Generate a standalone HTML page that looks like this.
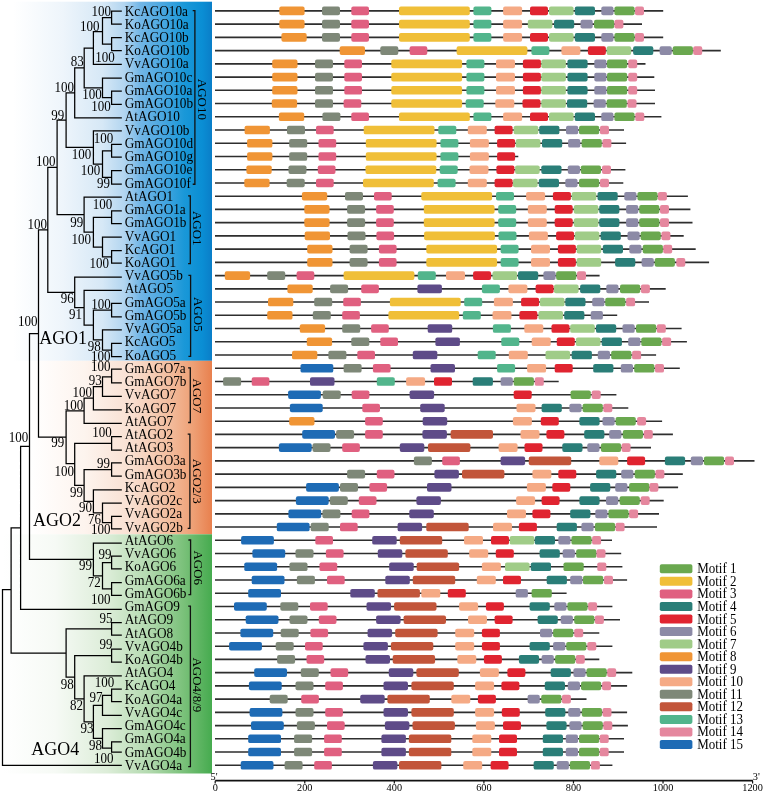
<!DOCTYPE html><html><head><meta charset="utf-8"><style>html,body{margin:0;padding:0;background:#fff;}svg{display:block;}text{font-family:"Liberation Serif","Times New Roman",serif;}</style></head><body>
<svg width="764" height="793" viewBox="0 0 764 793">
<defs>
<linearGradient id="gb" gradientUnits="userSpaceOnUse" x1="13" y1="0" x2="212" y2="0">
<stop offset="0" stop-color="#ffffff"/><stop offset="0.25" stop-color="#eef5fb"/><stop offset="0.45" stop-color="#d6e8f6"/>
<stop offset="0.56" stop-color="#b2d5f0"/><stop offset="0.64" stop-color="#72b6e6"/><stop offset="0.76" stop-color="#46a6e0"/>
<stop offset="0.86" stop-color="#1a98d8"/><stop offset="0.95" stop-color="#0a8ed4"/><stop offset="1" stop-color="#0a7ec8"/></linearGradient>
<linearGradient id="go" gradientUnits="userSpaceOnUse" x1="30" y1="0" x2="212" y2="0">
<stop offset="0" stop-color="#ffffff"/><stop offset="0.3" stop-color="#fdf4ee"/><stop offset="0.55" stop-color="#f9e0d2"/>
<stop offset="0.75" stop-color="#f3c0a2"/><stop offset="0.9" stop-color="#ee9f74"/><stop offset="1" stop-color="#e8804e"/></linearGradient>
<linearGradient id="gg" gradientUnits="userSpaceOnUse" x1="3" y1="0" x2="212" y2="0">
<stop offset="0" stop-color="#ffffff"/><stop offset="0.25" stop-color="#f6faf5"/><stop offset="0.5" stop-color="#dcedd8"/>
<stop offset="0.7" stop-color="#b2d9ae"/><stop offset="0.87" stop-color="#78c078"/><stop offset="1" stop-color="#46ab4f"/></linearGradient>
</defs>
<rect x="13" y="1.7" width="199" height="359.10" fill="url(#gb)"/>
<rect x="30" y="360.8" width="182" height="173.50" fill="url(#go)"/>
<rect x="3" y="534.3" width="209" height="239.20" fill="url(#gg)"/>
<path d="M111.6 11H121.2M111.6 24.2H121.2M111.6 37.5H121.2M111.6 50.7H121.2M93.4 64.4H121.2M102.5 78H121.2M111.6 91H121.2M111.6 104.3H121.2M74.7 117.9H121.2M93.4 130.8H121.2M111.6 144.4H121.2M111.6 157.1H121.2M111.6 170.7H121.2M111.6 184H121.2M84.1 197H121.2M111.6 210.9H121.2M111.6 223.7H121.2M102.5 237.1H121.2M111.6 250.7H121.2M111.6 263.1H121.2M74.7 277.2H121.2M84.1 290.4H121.2M111.6 303.4H121.2M111.6 316.8H121.2M102.5 329.8H121.2M111.6 343.4H121.2M111.6 356.6H121.2M111.6 369.2H121.2M111.6 382.8H121.2M102.5 396.4H121.2M93.4 409.8H121.2M84.1 423.4H121.2M111.6 436.5H121.2M111.6 450.2H121.2M111.6 462.8H121.2M111.6 476.2H121.2M93.4 489.8H121.2M102.5 503.2H121.2M111.6 516.4H121.2M111.6 528.9H121.2M93.4 543H121.2M111.6 556.2H121.2M111.6 568.9H121.2M111.6 582.6H121.2M111.6 595.3H121.2M20.6 609.3H121.2M111.6 622.6H121.2M111.6 635.2H121.2M111.6 649H121.2M111.6 662H121.2M84.1 675.8H121.2M111.6 689H121.2M111.6 701.6H121.2M102.5 715.4H121.2M102.5 728.5H121.2M111.6 741.9H121.2M111.6 752.1H121.2M2.5 765.3H121.2M111.6 11.00V24.20M111.6 37.50V50.70M102.5 17.60V44.10M102.5 17.60H111.6M102.5 44.10H111.6M93.4 31.60V64.40M93.4 31.60H102.5M111.6 91.00V104.30M102.5 78.00V97.65M102.5 97.65H111.6M84.2 48.00V87.83M84.2 48.00H93.4M84.2 87.83H102.5M74.7 67.91V117.90M74.7 67.91H84.2M111.6 144.40V157.10M111.6 170.70V184.00M102.5 150.75V177.35M102.5 150.75H111.6M102.5 177.35H111.6M93.4 130.80V164.05M93.4 164.05H102.5M66.1 92.91V147.43M66.1 92.91H74.7M66.1 147.43H93.4M111.6 210.90V223.70M111.6 250.70V263.10M102.5 237.10V256.90M102.5 256.90H111.6M93.4 217.30V247.00M93.4 217.30H111.6M93.4 247.00H102.5M84.1 197.00V232.15M84.1 232.15H93.4M57.1 120.17V214.57M57.1 120.17H66.1M57.1 214.57H84.1M111.6 303.40V316.80M111.6 343.40V356.60M102.5 329.80V350.00M102.5 350.00H111.6M93.4 310.10V339.90M93.4 310.10H111.6M93.4 339.90H102.5M84.1 290.40V325.00M84.1 325.00H93.4M74.7 277.20V307.70M74.7 307.70H84.1M47.8 167.37V292.45M47.8 167.37H57.1M47.8 292.45H74.7M111.6 369.20V382.80M102.5 376.80V396.40M102.5 376.80H111.6M93.4 386.60V409.80M93.4 386.60H102.5M84.1 398.20V423.40M84.1 398.20H93.4M111.6 436.50V450.20M111.6 462.80V476.20M111.6 516.40V528.90M102.5 503.20V522.65M102.5 522.65H111.6M93.4 489.80V512.92M93.4 512.92H102.5M84.1 469.50V501.36M84.1 469.50H111.6M84.1 501.36H93.4M74.7 443.35V485.43M74.7 443.35H111.6M74.7 485.43H84.1M66.1 410.80V463.60M66.1 410.80H84.1M66.1 463.60H74.7M38.5 229.91V437.20M38.5 229.91H47.8M38.5 437.20H66.1M111.6 556.20V568.90M111.6 582.60V595.30M102.5 562.55V588.95M102.5 562.55H111.6M102.5 588.95H111.6M93.4 543.00V575.75M93.4 575.75H102.5M29.5 333.56V559.38M29.5 333.56H38.5M29.5 559.38H93.4M20.6 446.47V609.30M20.6 446.47H29.5M111.6 622.60V635.20M111.6 649.00V662.00M111.6 689.00V701.60M102.5 695.30V715.40M102.5 695.30H111.6M111.6 741.90V752.10M102.5 728.50V748.20M102.5 748.20H111.6M93.4 705.35V738.35M93.4 705.35H102.5M93.4 738.35H102.5M84.1 675.80V721.85M84.1 721.85H93.4M74.7 655.50V698.82M74.7 655.50H111.6M74.7 698.82H84.1M66.1 628.90V677.16M66.1 628.90H111.6M66.1 677.16H74.7M11.1 527.88V653.03M11.1 527.88H20.6M11.1 653.03H66.1M2.5 589.70V765.30M2.5 589.70H11.1" fill="none" stroke="#000" stroke-width="1.25" stroke-linecap="square"/>
<text transform="translate(124.7,15.50) scale(1.02,1.1)" font-size="13" fill="#000">KcAGO10a</text>
<text transform="translate(124.7,28.73) scale(1.02,1.1)" font-size="13" fill="#000">KoAGO10a</text>
<text transform="translate(124.7,41.97) scale(1.02,1.1)" font-size="13" fill="#000">KcAGO10b</text>
<text transform="translate(124.7,55.20) scale(1.02,1.1)" font-size="13" fill="#000">KoAGO10b</text>
<text transform="translate(124.7,68.44) scale(1.02,1.1)" font-size="13" fill="#000">VvAGO10a</text>
<text transform="translate(124.7,81.67) scale(1.02,1.1)" font-size="13" fill="#000">GmAGO10c</text>
<text transform="translate(124.7,94.91) scale(1.02,1.1)" font-size="13" fill="#000">GmAGO10a</text>
<text transform="translate(124.7,108.14) scale(1.02,1.1)" font-size="13" fill="#000">GmAGO10b</text>
<text transform="translate(124.7,121.38) scale(1.02,1.1)" font-size="13" fill="#000">AtAGO10</text>
<text transform="translate(124.7,134.61) scale(1.02,1.1)" font-size="13" fill="#000">VvAGO10b</text>
<text transform="translate(124.7,147.85) scale(1.02,1.1)" font-size="13" fill="#000">GmAGO10d</text>
<text transform="translate(124.7,161.08) scale(1.02,1.1)" font-size="13" fill="#000">GmAGO10g</text>
<text transform="translate(124.7,174.32) scale(1.02,1.1)" font-size="13" fill="#000">GmAGO10e</text>
<text transform="translate(124.7,187.56) scale(1.02,1.1)" font-size="13" fill="#000">GmAGO10f</text>
<text transform="translate(124.7,200.79) scale(1.02,1.1)" font-size="13" fill="#000">AtAGO1</text>
<text transform="translate(124.7,214.02) scale(1.02,1.1)" font-size="13" fill="#000">GmAGO1a</text>
<text transform="translate(124.7,227.26) scale(1.02,1.1)" font-size="13" fill="#000">GmAGO1b</text>
<text transform="translate(124.7,240.50) scale(1.02,1.1)" font-size="13" fill="#000">VvAGO1</text>
<text transform="translate(124.7,253.73) scale(1.02,1.1)" font-size="13" fill="#000">KcAGO1</text>
<text transform="translate(124.7,266.96) scale(1.02,1.1)" font-size="13" fill="#000">KoAGO1</text>
<text transform="translate(124.7,280.20) scale(1.02,1.1)" font-size="13" fill="#000">VvAGO5b</text>
<text transform="translate(124.7,293.44) scale(1.02,1.1)" font-size="13" fill="#000">AtAGO5</text>
<text transform="translate(124.7,306.67) scale(1.02,1.1)" font-size="13" fill="#000">GmAGO5a</text>
<text transform="translate(124.7,319.90) scale(1.02,1.1)" font-size="13" fill="#000">GmAGO5b</text>
<text transform="translate(124.7,333.14) scale(1.02,1.1)" font-size="13" fill="#000">VvAGO5a</text>
<text transform="translate(124.7,346.38) scale(1.02,1.1)" font-size="13" fill="#000">KcAGO5</text>
<text transform="translate(124.7,359.61) scale(1.02,1.1)" font-size="13" fill="#000">KoAGO5</text>
<text transform="translate(124.7,372.84) scale(1.02,1.1)" font-size="13" fill="#000">GmAGO7a</text>
<text transform="translate(124.7,386.08) scale(1.02,1.1)" font-size="13" fill="#000">GmAGO7b</text>
<text transform="translate(124.7,399.31) scale(1.02,1.1)" font-size="13" fill="#000">VvAGO7</text>
<text transform="translate(124.7,412.55) scale(1.02,1.1)" font-size="13" fill="#000">KoAGO7</text>
<text transform="translate(124.7,425.78) scale(1.02,1.1)" font-size="13" fill="#000">AtAGO7</text>
<text transform="translate(124.7,439.02) scale(1.02,1.1)" font-size="13" fill="#000">AtAGO2</text>
<text transform="translate(124.7,452.25) scale(1.02,1.1)" font-size="13" fill="#000">AtAGO3</text>
<text transform="translate(124.7,465.49) scale(1.02,1.1)" font-size="13" fill="#000">GmAGO3a</text>
<text transform="translate(124.7,478.72) scale(1.02,1.1)" font-size="13" fill="#000">GmAGO3b</text>
<text transform="translate(124.7,491.96) scale(1.02,1.1)" font-size="13" fill="#000">KcAGO2</text>
<text transform="translate(124.7,505.19) scale(1.02,1.1)" font-size="13" fill="#000">VvAGO2c</text>
<text transform="translate(124.7,518.43) scale(1.02,1.1)" font-size="13" fill="#000">VvAGO2a</text>
<text transform="translate(124.7,531.66) scale(1.02,1.1)" font-size="13" fill="#000">VvAGO2b</text>
<text transform="translate(124.7,544.90) scale(1.02,1.1)" font-size="13" fill="#000">AtAGO6</text>
<text transform="translate(124.7,558.13) scale(1.02,1.1)" font-size="13" fill="#000">VvAGO6</text>
<text transform="translate(124.7,571.37) scale(1.02,1.1)" font-size="13" fill="#000">KoAGO6</text>
<text transform="translate(124.7,584.61) scale(1.02,1.1)" font-size="13" fill="#000">GmAGO6a</text>
<text transform="translate(124.7,597.84) scale(1.02,1.1)" font-size="13" fill="#000">GmAGO6b</text>
<text transform="translate(124.7,611.07) scale(1.02,1.1)" font-size="13" fill="#000">GmAGO9</text>
<text transform="translate(124.7,624.31) scale(1.02,1.1)" font-size="13" fill="#000">AtAGO9</text>
<text transform="translate(124.7,637.54) scale(1.02,1.1)" font-size="13" fill="#000">AtAGO8</text>
<text transform="translate(124.7,650.78) scale(1.02,1.1)" font-size="13" fill="#000">VvAGO4b</text>
<text transform="translate(124.7,664.01) scale(1.02,1.1)" font-size="13" fill="#000">KoAGO4b</text>
<text transform="translate(124.7,677.25) scale(1.02,1.1)" font-size="13" fill="#000">AtAGO4</text>
<text transform="translate(124.7,690.49) scale(1.02,1.1)" font-size="13" fill="#000">KcAGO4</text>
<text transform="translate(124.7,703.72) scale(1.02,1.1)" font-size="13" fill="#000">KoAGO4a</text>
<text transform="translate(124.7,716.95) scale(1.02,1.1)" font-size="13" fill="#000">VvAGO4c</text>
<text transform="translate(124.7,730.19) scale(1.02,1.1)" font-size="13" fill="#000">GmAGO4c</text>
<text transform="translate(124.7,743.42) scale(1.02,1.1)" font-size="13" fill="#000">GmAGO4a</text>
<text transform="translate(124.7,756.66) scale(1.02,1.1)" font-size="13" fill="#000">GmAGO4b</text>
<text transform="translate(124.7,769.89) scale(1.02,1.1)" font-size="13" fill="#000">VvAGO4a</text>
<text transform="translate(111.1,16.4) scale(1.0,1.04)" font-size="13" text-anchor="end" fill="#000">100</text>
<text transform="translate(99.6,31.0) scale(1.0,1.04)" font-size="13" text-anchor="end" fill="#000">100</text>
<text transform="translate(114.7,62.0) scale(1.0,1.04)" font-size="13" text-anchor="end" fill="#000">100</text>
<text transform="translate(83.8,66.3) scale(1.0,1.04)" font-size="13" text-anchor="end" fill="#000">83</text>
<text transform="translate(101.8,99.4) scale(1.0,1.04)" font-size="13" text-anchor="end" fill="#000">100</text>
<text transform="translate(110.7,110.5) scale(1.0,1.04)" font-size="13" text-anchor="end" fill="#000">100</text>
<text transform="translate(74.0,91.8) scale(1.0,1.04)" font-size="13" text-anchor="end" fill="#000">100</text>
<text transform="translate(64.3,119.8) scale(1.0,1.04)" font-size="13" text-anchor="end" fill="#000">99</text>
<text transform="translate(113.3,143.0) scale(1.0,1.04)" font-size="13" text-anchor="end" fill="#000">100</text>
<text transform="translate(91.2,158.8) scale(1.0,1.04)" font-size="13" text-anchor="end" fill="#000">100</text>
<text transform="translate(100.3,174.7) scale(1.0,1.04)" font-size="13" text-anchor="end" fill="#000">100</text>
<text transform="translate(110.0,188.4) scale(1.0,1.04)" font-size="13" text-anchor="end" fill="#000">99</text>
<text transform="translate(55.4,165.8) scale(1.0,1.04)" font-size="13" text-anchor="end" fill="#000">100</text>
<text transform="translate(112.3,209.3) scale(1.0,1.04)" font-size="13" text-anchor="end" fill="#000">100</text>
<text transform="translate(83.3,226.5) scale(1.0,1.04)" font-size="13" text-anchor="end" fill="#000">99</text>
<text transform="translate(91.0,243.7) scale(1.0,1.04)" font-size="13" text-anchor="end" fill="#000">100</text>
<text transform="translate(109.0,268.0) scale(1.0,1.04)" font-size="13" text-anchor="end" fill="#000">100</text>
<text transform="translate(47.0,228.5) scale(1.0,1.04)" font-size="13" text-anchor="end" fill="#000">100</text>
<text transform="translate(73.7,303.2) scale(1.0,1.04)" font-size="13" text-anchor="end" fill="#000">96</text>
<text transform="translate(82.0,319.0) scale(1.0,1.04)" font-size="13" text-anchor="end" fill="#000">91</text>
<text transform="translate(110.8,309.0) scale(1.0,1.04)" font-size="13" text-anchor="end" fill="#000">100</text>
<text transform="translate(100.7,351.4) scale(1.0,1.04)" font-size="13" text-anchor="end" fill="#000">98</text>
<text transform="translate(110.4,360.8) scale(1.0,1.04)" font-size="13" text-anchor="end" fill="#000">100</text>
<text transform="translate(37.4,326.2) scale(1.0,1.04)" font-size="13" text-anchor="end" fill="#000">100</text>
<text transform="translate(110.4,371.0) scale(1.0,1.04)" font-size="13" text-anchor="end" fill="#000">100</text>
<text transform="translate(101.8,385.4) scale(1.0,1.04)" font-size="13" text-anchor="end" fill="#000">93</text>
<text transform="translate(92.0,396.9) scale(1.0,1.04)" font-size="13" text-anchor="end" fill="#000">100</text>
<text transform="translate(83.3,409.8) scale(1.0,1.04)" font-size="13" text-anchor="end" fill="#000">100</text>
<text transform="translate(64.3,447.3) scale(1.0,1.04)" font-size="13" text-anchor="end" fill="#000">99</text>
<text transform="translate(111.8,436.8) scale(1.0,1.04)" font-size="13" text-anchor="end" fill="#000">100</text>
<text transform="translate(74.0,475.5) scale(1.0,1.04)" font-size="13" text-anchor="end" fill="#000">100</text>
<text transform="translate(83.0,496.8) scale(1.0,1.04)" font-size="13" text-anchor="end" fill="#000">99</text>
<text transform="translate(110.0,467.6) scale(1.0,1.04)" font-size="13" text-anchor="end" fill="#000">99</text>
<text transform="translate(92.0,512.1) scale(1.0,1.04)" font-size="13" text-anchor="end" fill="#000">90</text>
<text transform="translate(101.0,524.2) scale(1.0,1.04)" font-size="13" text-anchor="end" fill="#000">76</text>
<text transform="translate(110.4,534.0) scale(1.0,1.04)" font-size="13" text-anchor="end" fill="#000">100</text>
<text transform="translate(28.2,442.2) scale(1.0,1.04)" font-size="13" text-anchor="end" fill="#000">100</text>
<text transform="translate(92.0,570.4) scale(1.0,1.04)" font-size="13" text-anchor="end" fill="#000">99</text>
<text transform="translate(111.5,558.5) scale(1.0,1.04)" font-size="13" text-anchor="end" fill="#000">99</text>
<text transform="translate(100.7,587.0) scale(1.0,1.04)" font-size="13" text-anchor="end" fill="#000">72</text>
<text transform="translate(110.4,603.7) scale(1.0,1.04)" font-size="13" text-anchor="end" fill="#000">100</text>
<text transform="translate(112.6,622.7) scale(1.0,1.04)" font-size="13" text-anchor="end" fill="#000">95</text>
<text transform="translate(112.6,648.6) scale(1.0,1.04)" font-size="13" text-anchor="end" fill="#000">99</text>
<text transform="translate(73.7,688.8) scale(1.0,1.04)" font-size="13" text-anchor="end" fill="#000">98</text>
<text transform="translate(83.0,710.0) scale(1.0,1.04)" font-size="13" text-anchor="end" fill="#000">82</text>
<text transform="translate(114.3,687.4) scale(1.0,1.04)" font-size="13" text-anchor="end" fill="#000">100</text>
<text transform="translate(102.5,702.1) scale(1.0,1.04)" font-size="13" text-anchor="end" fill="#000">97</text>
<text transform="translate(93.6,732.9) scale(1.0,1.04)" font-size="13" text-anchor="end" fill="#000">93</text>
<text transform="translate(102.0,749.6) scale(1.0,1.04)" font-size="13" text-anchor="end" fill="#000">98</text>
<text transform="translate(113.6,762.7) scale(1.0,1.04)" font-size="13" text-anchor="end" fill="#000">100</text>
<text transform="translate(39.2,344) scale(1.02,1.13)" font-size="17.6" fill="#000">AGO1</text>
<text transform="translate(33,525.8) scale(1.02,1.13)" font-size="17.6" fill="#000">AGO2</text>
<text transform="translate(31.3,754.7) scale(1.02,1.13)" font-size="17.6" fill="#000">AGO4</text>
<text transform="translate(197.9,99.43) rotate(90) scale(1.06,1.06)" x="0" y="0" font-size="12.3" text-anchor="middle" fill="#000">AGO10</text>
<text transform="translate(193.3,228.28) rotate(90) scale(1.06,1.06)" x="0" y="0" font-size="12.3" text-anchor="middle" fill="#000">AGO1</text>
<text transform="translate(193.6,314.30) rotate(90) scale(1.06,1.06)" x="0" y="0" font-size="12.3" text-anchor="middle" fill="#000">AGO5</text>
<text transform="translate(193.3,395.91) rotate(90) scale(1.06,1.06)" x="0" y="0" font-size="12.3" text-anchor="middle" fill="#000">AGO7</text>
<text transform="translate(192.9,481.24) rotate(90) scale(1.06,1.06)" x="0" y="0" font-size="12.3" text-anchor="middle" fill="#000">AGO2/3</text>
<text transform="translate(193.6,567.77) rotate(90) scale(1.06,1.06)" x="0" y="0" font-size="12.3" text-anchor="middle" fill="#000">AGO6</text>
<text transform="translate(193.4,684.88) rotate(90) scale(1.06,1.06)" x="0" y="0" font-size="12.3" text-anchor="middle" fill="#000">AGO4/8/9</text>
<path d="M192.70000000000002 10.60H194.9V184.26H192.70000000000002M188.10000000000002 195.89H190.3V263.66H188.10000000000002M188.4 275.30H190.6V356.31H188.4M188.10000000000002 367.94H190.3V422.48H188.10000000000002M187.70000000000002 434.12H189.9V528.36H187.70000000000002M188.4 540.00H190.6V594.54H188.4M188.20000000000002 606.17H190.4V766.59H188.20000000000002" fill="none" stroke="#111" stroke-width="1.3"/>
<path d="M215 10.90H663.2M215 24.13H642.0M215 37.37H663.2M215 50.60H720.8M215 63.84H645.5M215 77.08H654.3M215 90.31H655.0M215 103.55H655.0M215 116.78H661.4M215 130.01H624.0M215 143.25H626.1M215 156.48H518.3M215 169.72H625.4M215 182.96H623.3M215 196.19H687.9M215 209.42H690.4M215 222.66H692.5M215 235.90H683.7M215 249.13H695.7M215 262.36H709.1M215 275.60H599.6M215 288.83H665.7M215 302.07H649.0M215 315.30H617.2M215 328.54H681.6M215 341.77H686.9M215 355.01H656.1M215 368.24H679.8M215 381.48H558.7M215 394.71H616.4M215 407.95H628.3M215 421.18H662.1M215 434.42H672.9M215 447.65H651.0M215 460.89H754.5M215 474.12H682.8M215 487.36H678.1M215 500.59H663.7M215 513.83H659.0M215 527.06H657.0M215 540.30H612.0M215 553.53H621.2M215 566.77H622.4M215 580.00H627.1M215 593.24H566.6M215 606.47H612.4M215 619.71H620.0M215 632.94H599.3M215 646.18H612.4M215 659.41H599.3M215 672.65H632.3M215 685.88H627.1M215 699.12H586.5M215 712.35H627.1M215 725.59H627.9M215 738.82H624.0M215 752.06H624.0M215 765.29H612.4" fill="none" stroke="#2e2e2e" stroke-width="1.6"/>
<rect x="279.3" y="6.60" width="25.3" height="8.6" rx="1.9" fill="#f09535"/>
<rect x="322.0" y="6.60" width="18.0" height="8.6" rx="1.9" fill="#7e8878"/>
<rect x="351.3" y="6.60" width="17.7" height="8.6" rx="1.9" fill="#e06080"/>
<rect x="399.0" y="6.60" width="70.8" height="8.6" rx="1.9" fill="#f0bf38"/>
<rect x="473.4" y="6.60" width="18.0" height="8.6" rx="1.9" fill="#52b58c"/>
<rect x="503.1" y="6.60" width="19.0" height="8.6" rx="1.9" fill="#f5aa85"/>
<rect x="530.0" y="6.60" width="18.0" height="8.6" rx="1.9" fill="#e02430"/>
<rect x="549.0" y="6.60" width="24.6" height="8.6" rx="1.9" fill="#a0cc88"/>
<rect x="574.8" y="6.60" width="20.2" height="8.6" rx="1.9" fill="#2a7e78"/>
<rect x="601.3" y="6.60" width="12.2" height="8.6" rx="1.9" fill="#8c8aa6"/>
<rect x="614.4" y="6.60" width="20.2" height="8.6" rx="1.9" fill="#6aa84f"/>
<rect x="635.0" y="6.60" width="9.0" height="8.6" rx="1.9" fill="#e5879e"/>
<rect x="279.3" y="19.83" width="25.3" height="8.6" rx="1.9" fill="#f09535"/>
<rect x="322.0" y="19.83" width="18.0" height="8.6" rx="1.9" fill="#7e8878"/>
<rect x="351.3" y="19.83" width="17.7" height="8.6" rx="1.9" fill="#e06080"/>
<rect x="399.0" y="19.83" width="70.8" height="8.6" rx="1.9" fill="#f0bf38"/>
<rect x="473.4" y="19.83" width="18.0" height="8.6" rx="1.9" fill="#52b58c"/>
<rect x="503.1" y="19.83" width="19.0" height="8.6" rx="1.9" fill="#f5aa85"/>
<rect x="527.8" y="19.83" width="24.6" height="8.6" rx="1.9" fill="#a0cc88"/>
<rect x="554.0" y="19.83" width="20.2" height="8.6" rx="1.9" fill="#2a7e78"/>
<rect x="580.5" y="19.83" width="12.2" height="8.6" rx="1.9" fill="#8c8aa6"/>
<rect x="594.0" y="19.83" width="20.2" height="8.6" rx="1.9" fill="#6aa84f"/>
<rect x="614.4" y="19.83" width="9.0" height="8.6" rx="1.9" fill="#e5879e"/>
<rect x="281.4" y="33.07" width="25.3" height="8.6" rx="1.9" fill="#f09535"/>
<rect x="322.0" y="33.07" width="18.0" height="8.6" rx="1.9" fill="#7e8878"/>
<rect x="351.3" y="33.07" width="17.7" height="8.6" rx="1.9" fill="#e06080"/>
<rect x="399.0" y="33.07" width="70.8" height="8.6" rx="1.9" fill="#f0bf38"/>
<rect x="473.4" y="33.07" width="18.0" height="8.6" rx="1.9" fill="#52b58c"/>
<rect x="503.1" y="33.07" width="19.0" height="8.6" rx="1.9" fill="#f5aa85"/>
<rect x="530.0" y="33.07" width="18.0" height="8.6" rx="1.9" fill="#e02430"/>
<rect x="549.0" y="33.07" width="24.6" height="8.6" rx="1.9" fill="#a0cc88"/>
<rect x="574.8" y="33.07" width="20.2" height="8.6" rx="1.9" fill="#2a7e78"/>
<rect x="601.3" y="33.07" width="12.2" height="8.6" rx="1.9" fill="#8c8aa6"/>
<rect x="614.4" y="33.07" width="20.2" height="8.6" rx="1.9" fill="#6aa84f"/>
<rect x="635.0" y="33.07" width="9.0" height="8.6" rx="1.9" fill="#e5879e"/>
<rect x="339.7" y="46.30" width="25.3" height="8.6" rx="1.9" fill="#f09535"/>
<rect x="380.3" y="46.30" width="18.0" height="8.6" rx="1.9" fill="#7e8878"/>
<rect x="409.6" y="46.30" width="17.7" height="8.6" rx="1.9" fill="#e06080"/>
<rect x="456.6" y="46.30" width="70.8" height="8.6" rx="1.9" fill="#f0bf38"/>
<rect x="531.4" y="46.30" width="18.0" height="8.6" rx="1.9" fill="#52b58c"/>
<rect x="561.4" y="46.30" width="19.0" height="8.6" rx="1.9" fill="#f5aa85"/>
<rect x="587.9" y="46.30" width="18.0" height="8.6" rx="1.9" fill="#e02430"/>
<rect x="606.6" y="46.30" width="24.6" height="8.6" rx="1.9" fill="#a0cc88"/>
<rect x="633.1" y="46.30" width="20.2" height="8.6" rx="1.9" fill="#2a7e78"/>
<rect x="659.6" y="46.30" width="12.2" height="8.6" rx="1.9" fill="#8c8aa6"/>
<rect x="672.7" y="46.30" width="20.2" height="8.6" rx="1.9" fill="#6aa84f"/>
<rect x="693.2" y="46.30" width="9.0" height="8.6" rx="1.9" fill="#e5879e"/>
<rect x="272.2" y="59.54" width="25.3" height="8.6" rx="1.9" fill="#f09535"/>
<rect x="315.0" y="59.54" width="18.0" height="8.6" rx="1.9" fill="#7e8878"/>
<rect x="344.3" y="59.54" width="17.7" height="8.6" rx="1.9" fill="#e06080"/>
<rect x="391.3" y="59.54" width="70.8" height="8.6" rx="1.9" fill="#f0bf38"/>
<rect x="466.4" y="59.54" width="18.0" height="8.6" rx="1.9" fill="#52b58c"/>
<rect x="496.0" y="59.54" width="19.0" height="8.6" rx="1.9" fill="#f5aa85"/>
<rect x="522.9" y="59.54" width="18.0" height="8.6" rx="1.9" fill="#e02430"/>
<rect x="541.3" y="59.54" width="24.6" height="8.6" rx="1.9" fill="#a0cc88"/>
<rect x="567.4" y="59.54" width="20.2" height="8.6" rx="1.9" fill="#2a7e78"/>
<rect x="594.3" y="59.54" width="12.2" height="8.6" rx="1.9" fill="#8c8aa6"/>
<rect x="607.0" y="59.54" width="20.2" height="8.6" rx="1.9" fill="#6aa84f"/>
<rect x="628.2" y="59.54" width="9.0" height="8.6" rx="1.9" fill="#e5879e"/>
<rect x="272.2" y="72.78" width="25.3" height="8.6" rx="1.9" fill="#f09535"/>
<rect x="315.0" y="72.78" width="18.0" height="8.6" rx="1.9" fill="#7e8878"/>
<rect x="344.3" y="72.78" width="17.7" height="8.6" rx="1.9" fill="#e06080"/>
<rect x="391.3" y="72.78" width="70.8" height="8.6" rx="1.9" fill="#f0bf38"/>
<rect x="466.4" y="72.78" width="18.0" height="8.6" rx="1.9" fill="#52b58c"/>
<rect x="496.0" y="72.78" width="19.0" height="8.6" rx="1.9" fill="#f5aa85"/>
<rect x="522.9" y="72.78" width="18.0" height="8.6" rx="1.9" fill="#e02430"/>
<rect x="541.3" y="72.78" width="24.6" height="8.6" rx="1.9" fill="#a0cc88"/>
<rect x="567.4" y="72.78" width="20.2" height="8.6" rx="1.9" fill="#2a7e78"/>
<rect x="594.3" y="72.78" width="12.2" height="8.6" rx="1.9" fill="#8c8aa6"/>
<rect x="607.0" y="72.78" width="20.2" height="8.6" rx="1.9" fill="#6aa84f"/>
<rect x="628.2" y="72.78" width="9.0" height="8.6" rx="1.9" fill="#e5879e"/>
<rect x="272.2" y="86.01" width="25.3" height="8.6" rx="1.9" fill="#f09535"/>
<rect x="315.0" y="86.01" width="18.0" height="8.6" rx="1.9" fill="#7e8878"/>
<rect x="344.3" y="86.01" width="17.7" height="8.6" rx="1.9" fill="#e06080"/>
<rect x="391.3" y="86.01" width="70.8" height="8.6" rx="1.9" fill="#f0bf38"/>
<rect x="466.4" y="86.01" width="18.0" height="8.6" rx="1.9" fill="#52b58c"/>
<rect x="496.0" y="86.01" width="19.0" height="8.6" rx="1.9" fill="#f5aa85"/>
<rect x="522.9" y="86.01" width="18.0" height="8.6" rx="1.9" fill="#e02430"/>
<rect x="541.3" y="86.01" width="24.6" height="8.6" rx="1.9" fill="#a0cc88"/>
<rect x="567.4" y="86.01" width="20.2" height="8.6" rx="1.9" fill="#2a7e78"/>
<rect x="594.3" y="86.01" width="12.2" height="8.6" rx="1.9" fill="#8c8aa6"/>
<rect x="607.0" y="86.01" width="20.2" height="8.6" rx="1.9" fill="#6aa84f"/>
<rect x="628.2" y="86.01" width="9.0" height="8.6" rx="1.9" fill="#e5879e"/>
<rect x="271.8" y="99.25" width="25.3" height="8.6" rx="1.9" fill="#f09535"/>
<rect x="315.0" y="99.25" width="18.0" height="8.6" rx="1.9" fill="#7e8878"/>
<rect x="343.6" y="99.25" width="17.7" height="8.6" rx="1.9" fill="#e06080"/>
<rect x="391.3" y="99.25" width="70.8" height="8.6" rx="1.9" fill="#f0bf38"/>
<rect x="465.7" y="99.25" width="18.0" height="8.6" rx="1.9" fill="#52b58c"/>
<rect x="495.3" y="99.25" width="19.0" height="8.6" rx="1.9" fill="#f5aa85"/>
<rect x="522.5" y="99.25" width="18.0" height="8.6" rx="1.9" fill="#e02430"/>
<rect x="541.3" y="99.25" width="24.6" height="8.6" rx="1.9" fill="#a0cc88"/>
<rect x="567.0" y="99.25" width="20.2" height="8.6" rx="1.9" fill="#2a7e78"/>
<rect x="593.6" y="99.25" width="12.2" height="8.6" rx="1.9" fill="#8c8aa6"/>
<rect x="606.6" y="99.25" width="20.2" height="8.6" rx="1.9" fill="#6aa84f"/>
<rect x="627.5" y="99.25" width="9.0" height="8.6" rx="1.9" fill="#e5879e"/>
<rect x="278.9" y="112.48" width="25.3" height="8.6" rx="1.9" fill="#f09535"/>
<rect x="322.4" y="112.48" width="18.0" height="8.6" rx="1.9" fill="#7e8878"/>
<rect x="351.3" y="112.48" width="17.7" height="8.6" rx="1.9" fill="#e06080"/>
<rect x="399.0" y="112.48" width="70.8" height="8.6" rx="1.9" fill="#f0bf38"/>
<rect x="473.4" y="112.48" width="18.0" height="8.6" rx="1.9" fill="#52b58c"/>
<rect x="503.1" y="112.48" width="19.0" height="8.6" rx="1.9" fill="#f5aa85"/>
<rect x="530.0" y="112.48" width="18.0" height="8.6" rx="1.9" fill="#e02430"/>
<rect x="549.0" y="112.48" width="24.6" height="8.6" rx="1.9" fill="#a0cc88"/>
<rect x="574.8" y="112.48" width="20.2" height="8.6" rx="1.9" fill="#2a7e78"/>
<rect x="601.3" y="112.48" width="12.2" height="8.6" rx="1.9" fill="#8c8aa6"/>
<rect x="614.4" y="112.48" width="20.2" height="8.6" rx="1.9" fill="#6aa84f"/>
<rect x="635.3" y="112.48" width="9.0" height="8.6" rx="1.9" fill="#e5879e"/>
<rect x="244.6" y="125.71" width="25.3" height="8.6" rx="1.9" fill="#f09535"/>
<rect x="287.0" y="125.71" width="18.0" height="8.6" rx="1.9" fill="#7e8878"/>
<rect x="316.0" y="125.71" width="17.7" height="8.6" rx="1.9" fill="#e06080"/>
<rect x="363.7" y="125.71" width="70.8" height="8.6" rx="1.9" fill="#f0bf38"/>
<rect x="438.3" y="125.71" width="18.0" height="8.6" rx="1.9" fill="#52b58c"/>
<rect x="467.8" y="125.71" width="19.0" height="8.6" rx="1.9" fill="#f5aa85"/>
<rect x="494.6" y="125.71" width="18.0" height="8.6" rx="1.9" fill="#e02430"/>
<rect x="513.7" y="125.71" width="24.6" height="8.6" rx="1.9" fill="#a0cc88"/>
<rect x="539.2" y="125.71" width="20.2" height="8.6" rx="1.9" fill="#2a7e78"/>
<rect x="566.0" y="125.71" width="12.2" height="8.6" rx="1.9" fill="#8c8aa6"/>
<rect x="579.0" y="125.71" width="20.2" height="8.6" rx="1.9" fill="#6aa84f"/>
<rect x="600.0" y="125.71" width="9.0" height="8.6" rx="1.9" fill="#e5879e"/>
<rect x="247.1" y="138.95" width="25.3" height="8.6" rx="1.9" fill="#f09535"/>
<rect x="289.2" y="138.95" width="18.0" height="8.6" rx="1.9" fill="#7e8878"/>
<rect x="318.5" y="138.95" width="17.7" height="8.6" rx="1.9" fill="#e06080"/>
<rect x="365.8" y="138.95" width="70.8" height="8.6" rx="1.9" fill="#f0bf38"/>
<rect x="440.4" y="138.95" width="18.0" height="8.6" rx="1.9" fill="#52b58c"/>
<rect x="469.9" y="138.95" width="19.0" height="8.6" rx="1.9" fill="#f5aa85"/>
<rect x="497.1" y="138.95" width="18.0" height="8.6" rx="1.9" fill="#e02430"/>
<rect x="515.8" y="138.95" width="24.6" height="8.6" rx="1.9" fill="#a0cc88"/>
<rect x="542.0" y="138.95" width="20.2" height="8.6" rx="1.9" fill="#2a7e78"/>
<rect x="568.1" y="138.95" width="12.2" height="8.6" rx="1.9" fill="#8c8aa6"/>
<rect x="581.6" y="138.95" width="20.2" height="8.6" rx="1.9" fill="#6aa84f"/>
<rect x="602.4" y="138.95" width="9.0" height="8.6" rx="1.9" fill="#e5879e"/>
<rect x="247.1" y="152.18" width="25.3" height="8.6" rx="1.9" fill="#f09535"/>
<rect x="289.2" y="152.18" width="18.0" height="8.6" rx="1.9" fill="#7e8878"/>
<rect x="318.5" y="152.18" width="17.7" height="8.6" rx="1.9" fill="#e06080"/>
<rect x="365.8" y="152.18" width="70.8" height="8.6" rx="1.9" fill="#f0bf38"/>
<rect x="440.4" y="152.18" width="18.0" height="8.6" rx="1.9" fill="#52b58c"/>
<rect x="469.9" y="152.18" width="19.0" height="8.6" rx="1.9" fill="#f5aa85"/>
<rect x="497.1" y="152.18" width="18.0" height="8.6" rx="1.9" fill="#e02430"/>
<rect x="246.4" y="165.42" width="25.3" height="8.6" rx="1.9" fill="#f09535"/>
<rect x="288.5" y="165.42" width="18.0" height="8.6" rx="1.9" fill="#7e8878"/>
<rect x="317.8" y="165.42" width="17.7" height="8.6" rx="1.9" fill="#e06080"/>
<rect x="365.5" y="165.42" width="70.8" height="8.6" rx="1.9" fill="#f0bf38"/>
<rect x="439.7" y="165.42" width="18.0" height="8.6" rx="1.9" fill="#52b58c"/>
<rect x="469.5" y="165.42" width="19.0" height="8.6" rx="1.9" fill="#f5aa85"/>
<rect x="496.4" y="165.42" width="18.0" height="8.6" rx="1.9" fill="#e02430"/>
<rect x="515.1" y="165.42" width="24.6" height="8.6" rx="1.9" fill="#a0cc88"/>
<rect x="541.3" y="165.42" width="20.2" height="8.6" rx="1.9" fill="#2a7e78"/>
<rect x="567.8" y="165.42" width="12.2" height="8.6" rx="1.9" fill="#8c8aa6"/>
<rect x="580.8" y="165.42" width="20.2" height="8.6" rx="1.9" fill="#6aa84f"/>
<rect x="602.0" y="165.42" width="9.0" height="8.6" rx="1.9" fill="#e5879e"/>
<rect x="244.3" y="178.66" width="25.3" height="8.6" rx="1.9" fill="#f09535"/>
<rect x="286.7" y="178.66" width="18.0" height="8.6" rx="1.9" fill="#7e8878"/>
<rect x="316.0" y="178.66" width="17.7" height="8.6" rx="1.9" fill="#e06080"/>
<rect x="363.0" y="178.66" width="70.8" height="8.6" rx="1.9" fill="#f0bf38"/>
<rect x="437.6" y="178.66" width="18.0" height="8.6" rx="1.9" fill="#52b58c"/>
<rect x="467.8" y="178.66" width="19.0" height="8.6" rx="1.9" fill="#f5aa85"/>
<rect x="494.6" y="178.66" width="18.0" height="8.6" rx="1.9" fill="#e02430"/>
<rect x="513.0" y="178.66" width="24.6" height="8.6" rx="1.9" fill="#a0cc88"/>
<rect x="538.8" y="178.66" width="20.2" height="8.6" rx="1.9" fill="#2a7e78"/>
<rect x="565.3" y="178.66" width="12.2" height="8.6" rx="1.9" fill="#8c8aa6"/>
<rect x="579.0" y="178.66" width="20.2" height="8.6" rx="1.9" fill="#6aa84f"/>
<rect x="600.0" y="178.66" width="9.0" height="8.6" rx="1.9" fill="#e5879e"/>
<rect x="301.9" y="191.89" width="25.3" height="8.6" rx="1.9" fill="#f09535"/>
<rect x="345.0" y="191.89" width="18.0" height="8.6" rx="1.9" fill="#7e8878"/>
<rect x="374.0" y="191.89" width="17.7" height="8.6" rx="1.9" fill="#e06080"/>
<rect x="421.3" y="191.89" width="70.8" height="8.6" rx="1.9" fill="#f0bf38"/>
<rect x="496.0" y="191.89" width="18.0" height="8.6" rx="1.9" fill="#52b58c"/>
<rect x="526.1" y="191.89" width="19.0" height="8.6" rx="1.9" fill="#f5aa85"/>
<rect x="552.9" y="191.89" width="18.0" height="8.6" rx="1.9" fill="#e02430"/>
<rect x="571.7" y="191.89" width="24.6" height="8.6" rx="1.9" fill="#a0cc88"/>
<rect x="597.5" y="191.89" width="20.2" height="8.6" rx="1.9" fill="#2a7e78"/>
<rect x="624.3" y="191.89" width="12.2" height="8.6" rx="1.9" fill="#8c8aa6"/>
<rect x="637.4" y="191.89" width="20.2" height="8.6" rx="1.9" fill="#6aa84f"/>
<rect x="657.9" y="191.89" width="9.0" height="8.6" rx="1.9" fill="#e5879e"/>
<rect x="304.3" y="205.12" width="25.3" height="8.6" rx="1.9" fill="#f09535"/>
<rect x="347.1" y="205.12" width="18.0" height="8.6" rx="1.9" fill="#7e8878"/>
<rect x="376.1" y="205.12" width="17.7" height="8.6" rx="1.9" fill="#e06080"/>
<rect x="423.8" y="205.12" width="70.8" height="8.6" rx="1.9" fill="#f0bf38"/>
<rect x="498.2" y="205.12" width="18.0" height="8.6" rx="1.9" fill="#52b58c"/>
<rect x="527.8" y="205.12" width="19.0" height="8.6" rx="1.9" fill="#f5aa85"/>
<rect x="554.7" y="205.12" width="18.0" height="8.6" rx="1.9" fill="#e02430"/>
<rect x="573.8" y="205.12" width="24.6" height="8.6" rx="1.9" fill="#a0cc88"/>
<rect x="599.2" y="205.12" width="20.2" height="8.6" rx="1.9" fill="#2a7e78"/>
<rect x="626.1" y="205.12" width="12.2" height="8.6" rx="1.9" fill="#8c8aa6"/>
<rect x="639.2" y="205.12" width="20.2" height="8.6" rx="1.9" fill="#6aa84f"/>
<rect x="660.0" y="205.12" width="9.0" height="8.6" rx="1.9" fill="#e5879e"/>
<rect x="304.3" y="218.36" width="25.3" height="8.6" rx="1.9" fill="#f09535"/>
<rect x="347.1" y="218.36" width="18.0" height="8.6" rx="1.9" fill="#7e8878"/>
<rect x="376.1" y="218.36" width="17.7" height="8.6" rx="1.9" fill="#e06080"/>
<rect x="423.8" y="218.36" width="70.8" height="8.6" rx="1.9" fill="#f0bf38"/>
<rect x="498.2" y="218.36" width="18.0" height="8.6" rx="1.9" fill="#52b58c"/>
<rect x="527.8" y="218.36" width="19.0" height="8.6" rx="1.9" fill="#f5aa85"/>
<rect x="554.7" y="218.36" width="18.0" height="8.6" rx="1.9" fill="#e02430"/>
<rect x="573.8" y="218.36" width="24.6" height="8.6" rx="1.9" fill="#a0cc88"/>
<rect x="599.2" y="218.36" width="20.2" height="8.6" rx="1.9" fill="#2a7e78"/>
<rect x="626.1" y="218.36" width="12.2" height="8.6" rx="1.9" fill="#8c8aa6"/>
<rect x="639.2" y="218.36" width="20.2" height="8.6" rx="1.9" fill="#6aa84f"/>
<rect x="660.0" y="218.36" width="9.0" height="8.6" rx="1.9" fill="#e5879e"/>
<rect x="304.7" y="231.59" width="25.3" height="8.6" rx="1.9" fill="#f09535"/>
<rect x="347.5" y="231.59" width="18.0" height="8.6" rx="1.9" fill="#7e8878"/>
<rect x="376.4" y="231.59" width="17.7" height="8.6" rx="1.9" fill="#e06080"/>
<rect x="424.1" y="231.59" width="70.8" height="8.6" rx="1.9" fill="#f0bf38"/>
<rect x="498.5" y="231.59" width="18.0" height="8.6" rx="1.9" fill="#52b58c"/>
<rect x="528.9" y="231.59" width="19.0" height="8.6" rx="1.9" fill="#f5aa85"/>
<rect x="556.1" y="231.59" width="18.0" height="8.6" rx="1.9" fill="#e02430"/>
<rect x="574.8" y="231.59" width="24.6" height="8.6" rx="1.9" fill="#a0cc88"/>
<rect x="600.6" y="231.59" width="20.2" height="8.6" rx="1.9" fill="#2a7e78"/>
<rect x="627.5" y="231.59" width="12.2" height="8.6" rx="1.9" fill="#8c8aa6"/>
<rect x="640.6" y="231.59" width="20.2" height="8.6" rx="1.9" fill="#6aa84f"/>
<rect x="661.4" y="231.59" width="9.0" height="8.6" rx="1.9" fill="#e5879e"/>
<rect x="307.2" y="244.83" width="25.3" height="8.6" rx="1.9" fill="#f09535"/>
<rect x="349.6" y="244.83" width="18.0" height="8.6" rx="1.9" fill="#7e8878"/>
<rect x="378.9" y="244.83" width="17.7" height="8.6" rx="1.9" fill="#e06080"/>
<rect x="426.3" y="244.83" width="70.8" height="8.6" rx="1.9" fill="#f0bf38"/>
<rect x="500.6" y="244.83" width="18.0" height="8.6" rx="1.9" fill="#52b58c"/>
<rect x="531.0" y="244.83" width="19.0" height="8.6" rx="1.9" fill="#f5aa85"/>
<rect x="557.9" y="244.83" width="18.0" height="8.6" rx="1.9" fill="#e02430"/>
<rect x="576.6" y="244.83" width="24.6" height="8.6" rx="1.9" fill="#a0cc88"/>
<rect x="602.8" y="244.83" width="20.2" height="8.6" rx="1.9" fill="#2a7e78"/>
<rect x="629.3" y="244.83" width="12.2" height="8.6" rx="1.9" fill="#8c8aa6"/>
<rect x="642.7" y="244.83" width="20.2" height="8.6" rx="1.9" fill="#6aa84f"/>
<rect x="663.2" y="244.83" width="9.0" height="8.6" rx="1.9" fill="#e5879e"/>
<rect x="307.2" y="258.06" width="25.3" height="8.6" rx="1.9" fill="#f09535"/>
<rect x="349.6" y="258.06" width="18.0" height="8.6" rx="1.9" fill="#7e8878"/>
<rect x="378.9" y="258.06" width="17.7" height="8.6" rx="1.9" fill="#e06080"/>
<rect x="426.3" y="258.06" width="70.8" height="8.6" rx="1.9" fill="#f0bf38"/>
<rect x="500.6" y="258.06" width="18.0" height="8.6" rx="1.9" fill="#52b58c"/>
<rect x="531.0" y="258.06" width="19.0" height="8.6" rx="1.9" fill="#f5aa85"/>
<rect x="557.9" y="258.06" width="18.0" height="8.6" rx="1.9" fill="#e02430"/>
<rect x="576.6" y="258.06" width="24.6" height="8.6" rx="1.9" fill="#a0cc88"/>
<rect x="615.1" y="258.06" width="20.2" height="8.6" rx="1.9" fill="#2a7e78"/>
<rect x="641.6" y="258.06" width="12.2" height="8.6" rx="1.9" fill="#8c8aa6"/>
<rect x="654.7" y="258.06" width="20.2" height="8.6" rx="1.9" fill="#6aa84f"/>
<rect x="676.3" y="258.06" width="9.0" height="8.6" rx="1.9" fill="#e5879e"/>
<rect x="224.8" y="271.30" width="25.3" height="8.6" rx="1.9" fill="#f09535"/>
<rect x="267.2" y="271.30" width="18.0" height="8.6" rx="1.9" fill="#7e8878"/>
<rect x="296.6" y="271.30" width="17.7" height="8.6" rx="1.9" fill="#e06080"/>
<rect x="343.6" y="271.30" width="70.8" height="8.6" rx="1.9" fill="#f0bf38"/>
<rect x="417.8" y="271.30" width="18.0" height="8.6" rx="1.9" fill="#52b58c"/>
<rect x="446.0" y="271.30" width="19.0" height="8.6" rx="1.9" fill="#f5aa85"/>
<rect x="473.1" y="271.30" width="18.0" height="8.6" rx="1.9" fill="#e02430"/>
<rect x="492.5" y="271.30" width="24.6" height="8.6" rx="1.9" fill="#a0cc88"/>
<rect x="518.0" y="271.30" width="20.2" height="8.6" rx="1.9" fill="#2a7e78"/>
<rect x="543.4" y="271.30" width="12.2" height="8.6" rx="1.9" fill="#8c8aa6"/>
<rect x="556.1" y="271.30" width="20.2" height="8.6" rx="1.9" fill="#6aa84f"/>
<rect x="577.0" y="271.30" width="9.0" height="8.6" rx="1.9" fill="#e5879e"/>
<rect x="287.4" y="284.53" width="25.3" height="8.6" rx="1.9" fill="#f09535"/>
<rect x="330.1" y="284.53" width="18.0" height="8.6" rx="1.9" fill="#7e8878"/>
<rect x="361.2" y="284.53" width="17.7" height="8.6" rx="1.9" fill="#e06080"/>
<rect x="417.4" y="284.53" width="24.5" height="8.6" rx="1.9" fill="#5e4b88"/>
<rect x="481.9" y="284.53" width="18.0" height="8.6" rx="1.9" fill="#52b58c"/>
<rect x="508.4" y="284.53" width="19.0" height="8.6" rx="1.9" fill="#f5aa85"/>
<rect x="535.6" y="284.53" width="18.0" height="8.6" rx="1.9" fill="#e02430"/>
<rect x="554.0" y="284.53" width="24.6" height="8.6" rx="1.9" fill="#a0cc88"/>
<rect x="580.1" y="284.53" width="20.2" height="8.6" rx="1.9" fill="#2a7e78"/>
<rect x="606.3" y="284.53" width="12.2" height="8.6" rx="1.9" fill="#8c8aa6"/>
<rect x="620.0" y="284.53" width="20.2" height="8.6" rx="1.9" fill="#6aa84f"/>
<rect x="640.9" y="284.53" width="9.0" height="8.6" rx="1.9" fill="#e5879e"/>
<rect x="268.0" y="297.77" width="25.3" height="8.6" rx="1.9" fill="#f09535"/>
<rect x="314.2" y="297.77" width="18.0" height="8.6" rx="1.9" fill="#7e8878"/>
<rect x="343.2" y="297.77" width="17.7" height="8.6" rx="1.9" fill="#e06080"/>
<rect x="389.9" y="297.77" width="70.8" height="8.6" rx="1.9" fill="#f0bf38"/>
<rect x="464.2" y="297.77" width="18.0" height="8.6" rx="1.9" fill="#52b58c"/>
<rect x="493.9" y="297.77" width="19.0" height="8.6" rx="1.9" fill="#f5aa85"/>
<rect x="521.1" y="297.77" width="18.0" height="8.6" rx="1.9" fill="#e02430"/>
<rect x="539.9" y="297.77" width="24.6" height="8.6" rx="1.9" fill="#a0cc88"/>
<rect x="565.3" y="297.77" width="20.2" height="8.6" rx="1.9" fill="#2a7e78"/>
<rect x="592.2" y="297.77" width="12.2" height="8.6" rx="1.9" fill="#8c8aa6"/>
<rect x="605.2" y="297.77" width="20.2" height="8.6" rx="1.9" fill="#6aa84f"/>
<rect x="626.1" y="297.77" width="9.0" height="8.6" rx="1.9" fill="#e5879e"/>
<rect x="267.2" y="311.00" width="25.3" height="8.6" rx="1.9" fill="#f09535"/>
<rect x="312.8" y="311.00" width="18.0" height="8.6" rx="1.9" fill="#7e8878"/>
<rect x="342.2" y="311.00" width="17.7" height="8.6" rx="1.9" fill="#e06080"/>
<rect x="388.4" y="311.00" width="70.8" height="8.6" rx="1.9" fill="#f0bf38"/>
<rect x="462.8" y="311.00" width="18.0" height="8.6" rx="1.9" fill="#52b58c"/>
<rect x="492.5" y="311.00" width="19.0" height="8.6" rx="1.9" fill="#f5aa85"/>
<rect x="519.4" y="311.00" width="18.0" height="8.6" rx="1.9" fill="#e02430"/>
<rect x="538.4" y="311.00" width="24.6" height="8.6" rx="1.9" fill="#a0cc88"/>
<rect x="564.2" y="311.00" width="20.2" height="8.6" rx="1.9" fill="#2a7e78"/>
<rect x="590.7" y="311.00" width="12.2" height="8.6" rx="1.9" fill="#8c8aa6"/>
<rect x="299.8" y="324.24" width="25.3" height="8.6" rx="1.9" fill="#f09535"/>
<rect x="342.2" y="324.24" width="18.0" height="8.6" rx="1.9" fill="#7e8878"/>
<rect x="371.1" y="324.24" width="17.7" height="8.6" rx="1.9" fill="#e06080"/>
<rect x="427.7" y="324.24" width="24.5" height="8.6" rx="1.9" fill="#5e4b88"/>
<rect x="492.9" y="324.24" width="18.0" height="8.6" rx="1.9" fill="#52b58c"/>
<rect x="524.3" y="324.24" width="19.0" height="8.6" rx="1.9" fill="#f5aa85"/>
<rect x="551.5" y="324.24" width="18.0" height="8.6" rx="1.9" fill="#e02430"/>
<rect x="570.2" y="324.24" width="24.6" height="8.6" rx="1.9" fill="#a0cc88"/>
<rect x="596.0" y="324.24" width="20.2" height="8.6" rx="1.9" fill="#2a7e78"/>
<rect x="622.5" y="324.24" width="12.2" height="8.6" rx="1.9" fill="#8c8aa6"/>
<rect x="636.0" y="324.24" width="20.2" height="8.6" rx="1.9" fill="#6aa84f"/>
<rect x="656.8" y="324.24" width="9.0" height="8.6" rx="1.9" fill="#e5879e"/>
<rect x="306.8" y="337.47" width="25.3" height="8.6" rx="1.9" fill="#f09535"/>
<rect x="351.3" y="337.47" width="18.0" height="8.6" rx="1.9" fill="#7e8878"/>
<rect x="380.3" y="337.47" width="17.7" height="8.6" rx="1.9" fill="#e06080"/>
<rect x="435.4" y="337.47" width="24.5" height="8.6" rx="1.9" fill="#5e4b88"/>
<rect x="501.3" y="337.47" width="18.0" height="8.6" rx="1.9" fill="#52b58c"/>
<rect x="531.7" y="337.47" width="19.0" height="8.6" rx="1.9" fill="#f5aa85"/>
<rect x="556.8" y="337.47" width="18.0" height="8.6" rx="1.9" fill="#e02430"/>
<rect x="575.9" y="337.47" width="24.6" height="8.6" rx="1.9" fill="#a0cc88"/>
<rect x="601.7" y="337.47" width="20.2" height="8.6" rx="1.9" fill="#2a7e78"/>
<rect x="628.2" y="337.47" width="12.2" height="8.6" rx="1.9" fill="#8c8aa6"/>
<rect x="641.3" y="337.47" width="20.2" height="8.6" rx="1.9" fill="#6aa84f"/>
<rect x="662.1" y="337.47" width="9.0" height="8.6" rx="1.9" fill="#e5879e"/>
<rect x="292.0" y="350.71" width="25.3" height="8.6" rx="1.9" fill="#f09535"/>
<rect x="328.4" y="350.71" width="18.0" height="8.6" rx="1.9" fill="#7e8878"/>
<rect x="357.3" y="350.71" width="17.7" height="8.6" rx="1.9" fill="#e06080"/>
<rect x="412.8" y="350.71" width="24.5" height="8.6" rx="1.9" fill="#5e4b88"/>
<rect x="477.7" y="350.71" width="18.0" height="8.6" rx="1.9" fill="#52b58c"/>
<rect x="508.8" y="350.71" width="19.0" height="8.6" rx="1.9" fill="#f5aa85"/>
<rect x="545.5" y="350.71" width="24.6" height="8.6" rx="1.9" fill="#a0cc88"/>
<rect x="571.7" y="350.71" width="20.2" height="8.6" rx="1.9" fill="#2a7e78"/>
<rect x="597.8" y="350.71" width="12.2" height="8.6" rx="1.9" fill="#8c8aa6"/>
<rect x="611.2" y="350.71" width="20.2" height="8.6" rx="1.9" fill="#6aa84f"/>
<rect x="632.1" y="350.71" width="9.0" height="8.6" rx="1.9" fill="#e5879e"/>
<rect x="300.5" y="363.94" width="32.8" height="8.6" rx="1.9" fill="#1e6bb5"/>
<rect x="343.6" y="363.94" width="18.0" height="8.6" rx="1.9" fill="#7e8878"/>
<rect x="372.9" y="363.94" width="17.7" height="8.6" rx="1.9" fill="#e06080"/>
<rect x="430.5" y="363.94" width="24.5" height="8.6" rx="1.9" fill="#5e4b88"/>
<rect x="497.1" y="363.94" width="18.0" height="8.6" rx="1.9" fill="#52b58c"/>
<rect x="527.1" y="363.94" width="19.0" height="8.6" rx="1.9" fill="#f5aa85"/>
<rect x="554.7" y="363.94" width="18.0" height="8.6" rx="1.9" fill="#e02430"/>
<rect x="593.2" y="363.94" width="20.2" height="8.6" rx="1.9" fill="#2a7e78"/>
<rect x="620.8" y="363.94" width="12.2" height="8.6" rx="1.9" fill="#8c8aa6"/>
<rect x="634.2" y="363.94" width="20.2" height="8.6" rx="1.9" fill="#6aa84f"/>
<rect x="655.0" y="363.94" width="9.0" height="8.6" rx="1.9" fill="#e5879e"/>
<rect x="223.1" y="377.18" width="18.0" height="8.6" rx="1.9" fill="#7e8878"/>
<rect x="251.7" y="377.18" width="17.7" height="8.6" rx="1.9" fill="#e06080"/>
<rect x="310.0" y="377.18" width="24.5" height="8.6" rx="1.9" fill="#5e4b88"/>
<rect x="376.8" y="377.18" width="18.0" height="8.6" rx="1.9" fill="#52b58c"/>
<rect x="406.1" y="377.18" width="19.0" height="8.6" rx="1.9" fill="#f5aa85"/>
<rect x="434.0" y="377.18" width="18.0" height="8.6" rx="1.9" fill="#e02430"/>
<rect x="472.7" y="377.18" width="20.2" height="8.6" rx="1.9" fill="#2a7e78"/>
<rect x="500.6" y="377.18" width="12.2" height="8.6" rx="1.9" fill="#8c8aa6"/>
<rect x="513.7" y="377.18" width="20.2" height="8.6" rx="1.9" fill="#6aa84f"/>
<rect x="534.8" y="377.18" width="9.0" height="8.6" rx="1.9" fill="#e5879e"/>
<rect x="288.1" y="390.41" width="32.8" height="8.6" rx="1.9" fill="#1e6bb5"/>
<rect x="322.7" y="390.41" width="18.0" height="8.6" rx="1.9" fill="#7e8878"/>
<rect x="351.7" y="390.41" width="17.7" height="8.6" rx="1.9" fill="#e06080"/>
<rect x="409.6" y="390.41" width="24.5" height="8.6" rx="1.9" fill="#5e4b88"/>
<rect x="513.7" y="390.41" width="18.0" height="8.6" rx="1.9" fill="#e02430"/>
<rect x="570.6" y="390.41" width="20.2" height="8.6" rx="1.9" fill="#6aa84f"/>
<rect x="591.7" y="390.41" width="9.0" height="8.6" rx="1.9" fill="#e5879e"/>
<rect x="289.9" y="403.65" width="32.8" height="8.6" rx="1.9" fill="#1e6bb5"/>
<rect x="362.3" y="403.65" width="17.7" height="8.6" rx="1.9" fill="#e06080"/>
<rect x="420.2" y="403.65" width="24.5" height="8.6" rx="1.9" fill="#5e4b88"/>
<rect x="516.5" y="403.65" width="19.0" height="8.6" rx="1.9" fill="#f5aa85"/>
<rect x="541.6" y="403.65" width="20.2" height="8.6" rx="1.9" fill="#2a7e78"/>
<rect x="569.4" y="403.65" width="12.2" height="8.6" rx="1.9" fill="#8c8aa6"/>
<rect x="582.6" y="403.65" width="20.2" height="8.6" rx="1.9" fill="#6aa84f"/>
<rect x="603.3" y="403.65" width="9.0" height="8.6" rx="1.9" fill="#e5879e"/>
<rect x="289.2" y="416.88" width="25.3" height="8.6" rx="1.9" fill="#f09535"/>
<rect x="365.1" y="416.88" width="17.7" height="8.6" rx="1.9" fill="#e06080"/>
<rect x="422.7" y="416.88" width="24.5" height="8.6" rx="1.9" fill="#5e4b88"/>
<rect x="512.9" y="416.88" width="19.0" height="8.6" rx="1.9" fill="#f5aa85"/>
<rect x="540.8" y="416.88" width="18.0" height="8.6" rx="1.9" fill="#e02430"/>
<rect x="579.4" y="416.88" width="20.2" height="8.6" rx="1.9" fill="#2a7e78"/>
<rect x="602.5" y="416.88" width="12.2" height="8.6" rx="1.9" fill="#8c8aa6"/>
<rect x="615.6" y="416.88" width="20.2" height="8.6" rx="1.9" fill="#6aa84f"/>
<rect x="637.1" y="416.88" width="9.0" height="8.6" rx="1.9" fill="#e5879e"/>
<rect x="302.2" y="430.12" width="32.8" height="8.6" rx="1.9" fill="#1e6bb5"/>
<rect x="336.1" y="430.12" width="18.0" height="8.6" rx="1.9" fill="#7e8878"/>
<rect x="365.1" y="430.12" width="17.7" height="8.6" rx="1.9" fill="#e06080"/>
<rect x="422.4" y="430.12" width="24.5" height="8.6" rx="1.9" fill="#5e4b88"/>
<rect x="450.6" y="430.12" width="42.4" height="8.6" rx="1.9" fill="#c2553a"/>
<rect x="520.5" y="430.12" width="19.0" height="8.6" rx="1.9" fill="#f5aa85"/>
<rect x="546.4" y="430.12" width="18.0" height="8.6" rx="1.9" fill="#e02430"/>
<rect x="584.2" y="430.12" width="20.2" height="8.6" rx="1.9" fill="#2a7e78"/>
<rect x="609.2" y="430.12" width="12.2" height="8.6" rx="1.9" fill="#8c8aa6"/>
<rect x="622.8" y="430.12" width="20.2" height="8.6" rx="1.9" fill="#6aa84f"/>
<rect x="643.8" y="430.12" width="9.0" height="8.6" rx="1.9" fill="#e5879e"/>
<rect x="278.9" y="443.35" width="32.8" height="8.6" rx="1.9" fill="#1e6bb5"/>
<rect x="312.5" y="443.35" width="18.0" height="8.6" rx="1.9" fill="#7e8878"/>
<rect x="342.2" y="443.35" width="17.7" height="8.6" rx="1.9" fill="#e06080"/>
<rect x="399.8" y="443.35" width="24.5" height="8.6" rx="1.9" fill="#5e4b88"/>
<rect x="428.0" y="443.35" width="42.4" height="8.6" rx="1.9" fill="#c2553a"/>
<rect x="498.6" y="443.35" width="19.0" height="8.6" rx="1.9" fill="#f5aa85"/>
<rect x="524.5" y="443.35" width="18.0" height="8.6" rx="1.9" fill="#e02430"/>
<rect x="562.3" y="443.35" width="20.2" height="8.6" rx="1.9" fill="#2a7e78"/>
<rect x="587.3" y="443.35" width="12.2" height="8.6" rx="1.9" fill="#8c8aa6"/>
<rect x="600.9" y="443.35" width="20.2" height="8.6" rx="1.9" fill="#6aa84f"/>
<rect x="621.6" y="443.35" width="9.0" height="8.6" rx="1.9" fill="#e5879e"/>
<rect x="413.9" y="456.59" width="18.0" height="8.6" rx="1.9" fill="#7e8878"/>
<rect x="442.2" y="456.59" width="17.7" height="8.6" rx="1.9" fill="#e06080"/>
<rect x="500.6" y="456.59" width="24.5" height="8.6" rx="1.9" fill="#5e4b88"/>
<rect x="528.8" y="456.59" width="42.4" height="8.6" rx="1.9" fill="#c2553a"/>
<rect x="599.3" y="456.59" width="19.0" height="8.6" rx="1.9" fill="#f5aa85"/>
<rect x="627.1" y="456.59" width="18.0" height="8.6" rx="1.9" fill="#e02430"/>
<rect x="664.9" y="456.59" width="20.2" height="8.6" rx="1.9" fill="#2a7e78"/>
<rect x="690.8" y="456.59" width="12.2" height="8.6" rx="1.9" fill="#8c8aa6"/>
<rect x="703.9" y="456.59" width="20.2" height="8.6" rx="1.9" fill="#6aa84f"/>
<rect x="725.0" y="456.59" width="9.0" height="8.6" rx="1.9" fill="#e5879e"/>
<rect x="347.1" y="469.82" width="18.0" height="8.6" rx="1.9" fill="#7e8878"/>
<rect x="376.8" y="469.82" width="17.7" height="8.6" rx="1.9" fill="#e06080"/>
<rect x="434.4" y="469.82" width="24.5" height="8.6" rx="1.9" fill="#5e4b88"/>
<rect x="462.0" y="469.82" width="42.4" height="8.6" rx="1.9" fill="#c2553a"/>
<rect x="532.4" y="469.82" width="19.0" height="8.6" rx="1.9" fill="#f5aa85"/>
<rect x="558.3" y="469.82" width="18.0" height="8.6" rx="1.9" fill="#e02430"/>
<rect x="596.1" y="469.82" width="20.2" height="8.6" rx="1.9" fill="#2a7e78"/>
<rect x="621.2" y="469.82" width="12.2" height="8.6" rx="1.9" fill="#8c8aa6"/>
<rect x="634.7" y="469.82" width="20.2" height="8.6" rx="1.9" fill="#6aa84f"/>
<rect x="655.4" y="469.82" width="9.0" height="8.6" rx="1.9" fill="#e5879e"/>
<rect x="306.1" y="483.06" width="32.8" height="8.6" rx="1.9" fill="#1e6bb5"/>
<rect x="340.0" y="483.06" width="18.0" height="8.6" rx="1.9" fill="#7e8878"/>
<rect x="369.4" y="483.06" width="17.7" height="8.6" rx="1.9" fill="#e06080"/>
<rect x="427.0" y="483.06" width="24.5" height="8.6" rx="1.9" fill="#5e4b88"/>
<rect x="526.9" y="483.06" width="19.0" height="8.6" rx="1.9" fill="#f5aa85"/>
<rect x="552.3" y="483.06" width="18.0" height="8.6" rx="1.9" fill="#e02430"/>
<rect x="590.1" y="483.06" width="20.2" height="8.6" rx="1.9" fill="#2a7e78"/>
<rect x="615.2" y="483.06" width="12.2" height="8.6" rx="1.9" fill="#8c8aa6"/>
<rect x="629.1" y="483.06" width="20.2" height="8.6" rx="1.9" fill="#6aa84f"/>
<rect x="649.4" y="483.06" width="9.0" height="8.6" rx="1.9" fill="#e5879e"/>
<rect x="295.9" y="496.29" width="32.8" height="8.6" rx="1.9" fill="#1e6bb5"/>
<rect x="329.8" y="496.29" width="18.0" height="8.6" rx="1.9" fill="#7e8878"/>
<rect x="358.8" y="496.29" width="17.7" height="8.6" rx="1.9" fill="#e06080"/>
<rect x="416.4" y="496.29" width="24.5" height="8.6" rx="1.9" fill="#5e4b88"/>
<rect x="516.1" y="496.29" width="19.0" height="8.6" rx="1.9" fill="#f5aa85"/>
<rect x="541.6" y="496.29" width="18.0" height="8.6" rx="1.9" fill="#e02430"/>
<rect x="579.4" y="496.29" width="20.2" height="8.6" rx="1.9" fill="#2a7e78"/>
<rect x="606.0" y="496.29" width="12.2" height="8.6" rx="1.9" fill="#8c8aa6"/>
<rect x="619.6" y="496.29" width="20.2" height="8.6" rx="1.9" fill="#6aa84f"/>
<rect x="640.7" y="496.29" width="9.0" height="8.6" rx="1.9" fill="#e5879e"/>
<rect x="288.4" y="509.53" width="32.8" height="8.6" rx="1.9" fill="#1e6bb5"/>
<rect x="322.4" y="509.53" width="18.0" height="8.6" rx="1.9" fill="#7e8878"/>
<rect x="351.7" y="509.53" width="17.7" height="8.6" rx="1.9" fill="#e06080"/>
<rect x="409.3" y="509.53" width="24.5" height="8.6" rx="1.9" fill="#5e4b88"/>
<rect x="507.0" y="509.53" width="19.0" height="8.6" rx="1.9" fill="#f5aa85"/>
<rect x="532.4" y="509.53" width="18.0" height="8.6" rx="1.9" fill="#e02430"/>
<rect x="570.2" y="509.53" width="20.2" height="8.6" rx="1.9" fill="#2a7e78"/>
<rect x="595.3" y="509.53" width="12.2" height="8.6" rx="1.9" fill="#8c8aa6"/>
<rect x="608.4" y="509.53" width="20.2" height="8.6" rx="1.9" fill="#6aa84f"/>
<rect x="629.1" y="509.53" width="9.0" height="8.6" rx="1.9" fill="#e5879e"/>
<rect x="276.8" y="522.76" width="32.8" height="8.6" rx="1.9" fill="#1e6bb5"/>
<rect x="310.7" y="522.76" width="18.0" height="8.6" rx="1.9" fill="#7e8878"/>
<rect x="340.0" y="522.76" width="17.7" height="8.6" rx="1.9" fill="#e06080"/>
<rect x="397.6" y="522.76" width="24.5" height="8.6" rx="1.9" fill="#5e4b88"/>
<rect x="426.3" y="522.76" width="42.4" height="8.6" rx="1.9" fill="#c2553a"/>
<rect x="493.0" y="522.76" width="19.0" height="8.6" rx="1.9" fill="#f5aa85"/>
<rect x="518.9" y="522.76" width="18.0" height="8.6" rx="1.9" fill="#e02430"/>
<rect x="556.7" y="522.76" width="20.2" height="8.6" rx="1.9" fill="#2a7e78"/>
<rect x="581.4" y="522.76" width="12.2" height="8.6" rx="1.9" fill="#8c8aa6"/>
<rect x="594.9" y="522.76" width="20.2" height="8.6" rx="1.9" fill="#6aa84f"/>
<rect x="615.6" y="522.76" width="9.0" height="8.6" rx="1.9" fill="#e5879e"/>
<rect x="241.1" y="536.00" width="32.8" height="8.6" rx="1.9" fill="#1e6bb5"/>
<rect x="315.3" y="536.00" width="17.7" height="8.6" rx="1.9" fill="#e06080"/>
<rect x="372.2" y="536.00" width="24.5" height="8.6" rx="1.9" fill="#5e4b88"/>
<rect x="399.8" y="536.00" width="42.4" height="8.6" rx="1.9" fill="#c2553a"/>
<rect x="464.0" y="536.00" width="19.0" height="8.6" rx="1.9" fill="#f5aa85"/>
<rect x="491.0" y="536.00" width="18.0" height="8.6" rx="1.9" fill="#e02430"/>
<rect x="509.7" y="536.00" width="24.6" height="8.6" rx="1.9" fill="#a0cc88"/>
<rect x="534.8" y="536.00" width="20.2" height="8.6" rx="1.9" fill="#2a7e78"/>
<rect x="558.3" y="536.00" width="12.2" height="8.6" rx="1.9" fill="#8c8aa6"/>
<rect x="571.4" y="536.00" width="20.2" height="8.6" rx="1.9" fill="#6aa84f"/>
<rect x="592.1" y="536.00" width="9.0" height="8.6" rx="1.9" fill="#e5879e"/>
<rect x="252.4" y="549.24" width="32.8" height="8.6" rx="1.9" fill="#1e6bb5"/>
<rect x="295.5" y="549.24" width="18.0" height="8.6" rx="1.9" fill="#7e8878"/>
<rect x="325.9" y="549.24" width="17.7" height="8.6" rx="1.9" fill="#e06080"/>
<rect x="377.8" y="549.24" width="24.5" height="8.6" rx="1.9" fill="#5e4b88"/>
<rect x="405.4" y="549.24" width="42.4" height="8.6" rx="1.9" fill="#c2553a"/>
<rect x="469.2" y="549.24" width="19.0" height="8.6" rx="1.9" fill="#f5aa85"/>
<rect x="495.8" y="549.24" width="18.0" height="8.6" rx="1.9" fill="#e02430"/>
<rect x="539.6" y="549.24" width="20.2" height="8.6" rx="1.9" fill="#2a7e78"/>
<rect x="562.7" y="549.24" width="12.2" height="8.6" rx="1.9" fill="#8c8aa6"/>
<rect x="576.2" y="549.24" width="20.2" height="8.6" rx="1.9" fill="#6aa84f"/>
<rect x="596.5" y="549.24" width="9.0" height="8.6" rx="1.9" fill="#e5879e"/>
<rect x="244.3" y="562.47" width="32.8" height="8.6" rx="1.9" fill="#1e6bb5"/>
<rect x="289.5" y="562.47" width="18.0" height="8.6" rx="1.9" fill="#7e8878"/>
<rect x="319.5" y="562.47" width="17.7" height="8.6" rx="1.9" fill="#e06080"/>
<rect x="389.2" y="562.47" width="24.5" height="8.6" rx="1.9" fill="#5e4b88"/>
<rect x="416.7" y="562.47" width="42.4" height="8.6" rx="1.9" fill="#c2553a"/>
<rect x="481.9" y="562.47" width="19.0" height="8.6" rx="1.9" fill="#f5aa85"/>
<rect x="505.0" y="562.47" width="24.6" height="8.6" rx="1.9" fill="#a0cc88"/>
<rect x="530.8" y="562.47" width="20.2" height="8.6" rx="1.9" fill="#2a7e78"/>
<rect x="563.5" y="562.47" width="20.2" height="8.6" rx="1.9" fill="#6aa84f"/>
<rect x="597.3" y="562.47" width="9.0" height="8.6" rx="1.9" fill="#e5879e"/>
<rect x="251.7" y="575.71" width="32.8" height="8.6" rx="1.9" fill="#1e6bb5"/>
<rect x="296.9" y="575.71" width="18.0" height="8.6" rx="1.9" fill="#7e8878"/>
<rect x="327.0" y="575.71" width="17.7" height="8.6" rx="1.9" fill="#e06080"/>
<rect x="385.3" y="575.71" width="24.5" height="8.6" rx="1.9" fill="#5e4b88"/>
<rect x="412.8" y="575.71" width="42.4" height="8.6" rx="1.9" fill="#c2553a"/>
<rect x="476.8" y="575.71" width="19.0" height="8.6" rx="1.9" fill="#f5aa85"/>
<rect x="503.0" y="575.71" width="18.0" height="8.6" rx="1.9" fill="#e02430"/>
<rect x="546.7" y="575.71" width="20.2" height="8.6" rx="1.9" fill="#2a7e78"/>
<rect x="570.2" y="575.71" width="12.2" height="8.6" rx="1.9" fill="#8c8aa6"/>
<rect x="583.0" y="575.71" width="20.2" height="8.6" rx="1.9" fill="#6aa84f"/>
<rect x="604.0" y="575.71" width="9.0" height="8.6" rx="1.9" fill="#e5879e"/>
<rect x="248.2" y="588.94" width="32.8" height="8.6" rx="1.9" fill="#1e6bb5"/>
<rect x="350.3" y="588.94" width="24.5" height="8.6" rx="1.9" fill="#5e4b88"/>
<rect x="377.5" y="588.94" width="42.4" height="8.6" rx="1.9" fill="#c2553a"/>
<rect x="421.3" y="588.94" width="19.0" height="8.6" rx="1.9" fill="#f5aa85"/>
<rect x="447.8" y="588.94" width="18.0" height="8.6" rx="1.9" fill="#e02430"/>
<rect x="515.7" y="588.94" width="12.2" height="8.6" rx="1.9" fill="#8c8aa6"/>
<rect x="531.6" y="588.94" width="20.2" height="8.6" rx="1.9" fill="#6aa84f"/>
<rect x="234.0" y="602.17" width="32.8" height="8.6" rx="1.9" fill="#1e6bb5"/>
<rect x="280.3" y="602.17" width="18.0" height="8.6" rx="1.9" fill="#7e8878"/>
<rect x="310.0" y="602.17" width="17.7" height="8.6" rx="1.9" fill="#e06080"/>
<rect x="366.5" y="602.17" width="24.5" height="8.6" rx="1.9" fill="#5e4b88"/>
<rect x="394.1" y="602.17" width="42.4" height="8.6" rx="1.9" fill="#c2553a"/>
<rect x="459.1" y="602.17" width="19.0" height="8.6" rx="1.9" fill="#f5aa85"/>
<rect x="485.9" y="602.17" width="18.0" height="8.6" rx="1.9" fill="#e02430"/>
<rect x="529.6" y="602.17" width="20.2" height="8.6" rx="1.9" fill="#2a7e78"/>
<rect x="554.3" y="602.17" width="12.2" height="8.6" rx="1.9" fill="#8c8aa6"/>
<rect x="567.4" y="602.17" width="20.2" height="8.6" rx="1.9" fill="#6aa84f"/>
<rect x="588.1" y="602.17" width="9.0" height="8.6" rx="1.9" fill="#e5879e"/>
<rect x="245.7" y="615.41" width="32.8" height="8.6" rx="1.9" fill="#1e6bb5"/>
<rect x="289.5" y="615.41" width="18.0" height="8.6" rx="1.9" fill="#7e8878"/>
<rect x="318.8" y="615.41" width="17.7" height="8.6" rx="1.9" fill="#e06080"/>
<rect x="376.1" y="615.41" width="24.5" height="8.6" rx="1.9" fill="#5e4b88"/>
<rect x="403.6" y="615.41" width="42.4" height="8.6" rx="1.9" fill="#c2553a"/>
<rect x="468.0" y="615.41" width="19.0" height="8.6" rx="1.9" fill="#f5aa85"/>
<rect x="494.6" y="615.41" width="18.0" height="8.6" rx="1.9" fill="#e02430"/>
<rect x="537.6" y="615.41" width="20.2" height="8.6" rx="1.9" fill="#2a7e78"/>
<rect x="560.7" y="615.41" width="12.2" height="8.6" rx="1.9" fill="#8c8aa6"/>
<rect x="574.2" y="615.41" width="20.2" height="8.6" rx="1.9" fill="#6aa84f"/>
<rect x="594.9" y="615.41" width="9.0" height="8.6" rx="1.9" fill="#e5879e"/>
<rect x="240.4" y="628.64" width="32.8" height="8.6" rx="1.9" fill="#1e6bb5"/>
<rect x="280.7" y="628.64" width="18.0" height="8.6" rx="1.9" fill="#7e8878"/>
<rect x="310.4" y="628.64" width="17.7" height="8.6" rx="1.9" fill="#e06080"/>
<rect x="367.6" y="628.64" width="24.5" height="8.6" rx="1.9" fill="#5e4b88"/>
<rect x="395.2" y="628.64" width="42.4" height="8.6" rx="1.9" fill="#c2553a"/>
<rect x="455.2" y="628.64" width="19.0" height="8.6" rx="1.9" fill="#f5aa85"/>
<rect x="481.9" y="628.64" width="18.0" height="8.6" rx="1.9" fill="#e02430"/>
<rect x="540.0" y="628.64" width="12.2" height="8.6" rx="1.9" fill="#8c8aa6"/>
<rect x="553.1" y="628.64" width="20.2" height="8.6" rx="1.9" fill="#6aa84f"/>
<rect x="574.2" y="628.64" width="9.0" height="8.6" rx="1.9" fill="#e5879e"/>
<rect x="229.1" y="641.88" width="32.8" height="8.6" rx="1.9" fill="#1e6bb5"/>
<rect x="275.7" y="641.88" width="18.0" height="8.6" rx="1.9" fill="#7e8878"/>
<rect x="305.0" y="641.88" width="17.7" height="8.6" rx="1.9" fill="#e06080"/>
<rect x="363.4" y="641.88" width="24.5" height="8.6" rx="1.9" fill="#5e4b88"/>
<rect x="390.9" y="641.88" width="42.4" height="8.6" rx="1.9" fill="#c2553a"/>
<rect x="455.2" y="641.88" width="19.0" height="8.6" rx="1.9" fill="#f5aa85"/>
<rect x="481.9" y="641.88" width="18.0" height="8.6" rx="1.9" fill="#e02430"/>
<rect x="529.6" y="641.88" width="20.2" height="8.6" rx="1.9" fill="#2a7e78"/>
<rect x="553.1" y="641.88" width="12.2" height="8.6" rx="1.9" fill="#8c8aa6"/>
<rect x="566.2" y="641.88" width="20.2" height="8.6" rx="1.9" fill="#6aa84f"/>
<rect x="587.3" y="641.88" width="9.0" height="8.6" rx="1.9" fill="#e5879e"/>
<rect x="277.1" y="655.12" width="18.0" height="8.6" rx="1.9" fill="#7e8878"/>
<rect x="306.5" y="655.12" width="17.7" height="8.6" rx="1.9" fill="#e06080"/>
<rect x="365.5" y="655.12" width="24.5" height="8.6" rx="1.9" fill="#5e4b88"/>
<rect x="392.7" y="655.12" width="42.4" height="8.6" rx="1.9" fill="#c2553a"/>
<rect x="457.3" y="655.12" width="19.0" height="8.6" rx="1.9" fill="#f5aa85"/>
<rect x="483.9" y="655.12" width="18.0" height="8.6" rx="1.9" fill="#e02430"/>
<rect x="518.9" y="655.12" width="20.2" height="8.6" rx="1.9" fill="#2a7e78"/>
<rect x="541.6" y="655.12" width="12.2" height="8.6" rx="1.9" fill="#8c8aa6"/>
<rect x="555.1" y="655.12" width="20.2" height="8.6" rx="1.9" fill="#6aa84f"/>
<rect x="575.8" y="655.12" width="9.0" height="8.6" rx="1.9" fill="#e5879e"/>
<rect x="254.2" y="668.35" width="32.8" height="8.6" rx="1.9" fill="#1e6bb5"/>
<rect x="300.8" y="668.35" width="18.0" height="8.6" rx="1.9" fill="#7e8878"/>
<rect x="330.5" y="668.35" width="17.7" height="8.6" rx="1.9" fill="#e06080"/>
<rect x="388.8" y="668.35" width="24.5" height="8.6" rx="1.9" fill="#5e4b88"/>
<rect x="416.4" y="668.35" width="42.4" height="8.6" rx="1.9" fill="#c2553a"/>
<rect x="479.9" y="668.35" width="19.0" height="8.6" rx="1.9" fill="#f5aa85"/>
<rect x="507.4" y="668.35" width="18.0" height="8.6" rx="1.9" fill="#e02430"/>
<rect x="550.7" y="668.35" width="20.2" height="8.6" rx="1.9" fill="#2a7e78"/>
<rect x="573.4" y="668.35" width="12.2" height="8.6" rx="1.9" fill="#8c8aa6"/>
<rect x="586.5" y="668.35" width="20.2" height="8.6" rx="1.9" fill="#6aa84f"/>
<rect x="607.2" y="668.35" width="9.0" height="8.6" rx="1.9" fill="#e5879e"/>
<rect x="248.9" y="681.59" width="32.8" height="8.6" rx="1.9" fill="#1e6bb5"/>
<rect x="295.5" y="681.59" width="18.0" height="8.6" rx="1.9" fill="#7e8878"/>
<rect x="325.2" y="681.59" width="17.7" height="8.6" rx="1.9" fill="#e06080"/>
<rect x="383.5" y="681.59" width="24.5" height="8.6" rx="1.9" fill="#5e4b88"/>
<rect x="411.4" y="681.59" width="42.4" height="8.6" rx="1.9" fill="#c2553a"/>
<rect x="475.1" y="681.59" width="19.0" height="8.6" rx="1.9" fill="#f5aa85"/>
<rect x="501.4" y="681.59" width="18.0" height="8.6" rx="1.9" fill="#e02430"/>
<rect x="544.8" y="681.59" width="20.2" height="8.6" rx="1.9" fill="#2a7e78"/>
<rect x="567.8" y="681.59" width="12.2" height="8.6" rx="1.9" fill="#8c8aa6"/>
<rect x="581.0" y="681.59" width="20.2" height="8.6" rx="1.9" fill="#6aa84f"/>
<rect x="602.1" y="681.59" width="9.0" height="8.6" rx="1.9" fill="#e5879e"/>
<rect x="269.7" y="694.82" width="18.0" height="8.6" rx="1.9" fill="#7e8878"/>
<rect x="301.2" y="694.82" width="17.7" height="8.6" rx="1.9" fill="#e06080"/>
<rect x="360.2" y="694.82" width="24.5" height="8.6" rx="1.9" fill="#5e4b88"/>
<rect x="387.4" y="694.82" width="42.4" height="8.6" rx="1.9" fill="#c2553a"/>
<rect x="451.3" y="694.82" width="19.0" height="8.6" rx="1.9" fill="#f5aa85"/>
<rect x="477.9" y="694.82" width="18.0" height="8.6" rx="1.9" fill="#e02430"/>
<rect x="527.6" y="694.82" width="12.2" height="8.6" rx="1.9" fill="#8c8aa6"/>
<rect x="541.2" y="694.82" width="20.2" height="8.6" rx="1.9" fill="#6aa84f"/>
<rect x="561.9" y="694.82" width="9.0" height="8.6" rx="1.9" fill="#e5879e"/>
<rect x="249.6" y="708.05" width="32.8" height="8.6" rx="1.9" fill="#1e6bb5"/>
<rect x="295.5" y="708.05" width="18.0" height="8.6" rx="1.9" fill="#7e8878"/>
<rect x="325.2" y="708.05" width="17.7" height="8.6" rx="1.9" fill="#e06080"/>
<rect x="383.5" y="708.05" width="24.5" height="8.6" rx="1.9" fill="#5e4b88"/>
<rect x="411.4" y="708.05" width="42.4" height="8.6" rx="1.9" fill="#c2553a"/>
<rect x="475.1" y="708.05" width="19.0" height="8.6" rx="1.9" fill="#f5aa85"/>
<rect x="501.8" y="708.05" width="18.0" height="8.6" rx="1.9" fill="#e02430"/>
<rect x="545.2" y="708.05" width="20.2" height="8.6" rx="1.9" fill="#2a7e78"/>
<rect x="568.2" y="708.05" width="12.2" height="8.6" rx="1.9" fill="#8c8aa6"/>
<rect x="581.8" y="708.05" width="20.2" height="8.6" rx="1.9" fill="#6aa84f"/>
<rect x="602.5" y="708.05" width="9.0" height="8.6" rx="1.9" fill="#e5879e"/>
<rect x="251.0" y="721.29" width="32.8" height="8.6" rx="1.9" fill="#1e6bb5"/>
<rect x="296.9" y="721.29" width="18.0" height="8.6" rx="1.9" fill="#7e8878"/>
<rect x="327.0" y="721.29" width="17.7" height="8.6" rx="1.9" fill="#e06080"/>
<rect x="384.9" y="721.29" width="24.5" height="8.6" rx="1.9" fill="#5e4b88"/>
<rect x="412.5" y="721.29" width="42.4" height="8.6" rx="1.9" fill="#c2553a"/>
<rect x="475.9" y="721.29" width="19.0" height="8.6" rx="1.9" fill="#f5aa85"/>
<rect x="503.0" y="721.29" width="18.0" height="8.6" rx="1.9" fill="#e02430"/>
<rect x="546.4" y="721.29" width="20.2" height="8.6" rx="1.9" fill="#2a7e78"/>
<rect x="569.4" y="721.29" width="12.2" height="8.6" rx="1.9" fill="#8c8aa6"/>
<rect x="582.6" y="721.29" width="20.2" height="8.6" rx="1.9" fill="#6aa84f"/>
<rect x="603.3" y="721.29" width="9.0" height="8.6" rx="1.9" fill="#e5879e"/>
<rect x="248.2" y="734.52" width="32.8" height="8.6" rx="1.9" fill="#1e6bb5"/>
<rect x="294.1" y="734.52" width="18.0" height="8.6" rx="1.9" fill="#7e8878"/>
<rect x="324.1" y="734.52" width="17.7" height="8.6" rx="1.9" fill="#e06080"/>
<rect x="381.4" y="734.52" width="24.5" height="8.6" rx="1.9" fill="#5e4b88"/>
<rect x="408.9" y="734.52" width="42.4" height="8.6" rx="1.9" fill="#c2553a"/>
<rect x="472.3" y="734.52" width="19.0" height="8.6" rx="1.9" fill="#f5aa85"/>
<rect x="499.0" y="734.52" width="18.0" height="8.6" rx="1.9" fill="#e02430"/>
<rect x="542.8" y="734.52" width="20.2" height="8.6" rx="1.9" fill="#2a7e78"/>
<rect x="565.8" y="734.52" width="12.2" height="8.6" rx="1.9" fill="#8c8aa6"/>
<rect x="579.0" y="734.52" width="20.2" height="8.6" rx="1.9" fill="#6aa84f"/>
<rect x="599.7" y="734.52" width="9.0" height="8.6" rx="1.9" fill="#e5879e"/>
<rect x="248.2" y="747.76" width="32.8" height="8.6" rx="1.9" fill="#1e6bb5"/>
<rect x="294.1" y="747.76" width="18.0" height="8.6" rx="1.9" fill="#7e8878"/>
<rect x="324.1" y="747.76" width="17.7" height="8.6" rx="1.9" fill="#e06080"/>
<rect x="381.4" y="747.76" width="24.5" height="8.6" rx="1.9" fill="#5e4b88"/>
<rect x="408.9" y="747.76" width="42.4" height="8.6" rx="1.9" fill="#c2553a"/>
<rect x="472.3" y="747.76" width="19.0" height="8.6" rx="1.9" fill="#f5aa85"/>
<rect x="499.0" y="747.76" width="18.0" height="8.6" rx="1.9" fill="#e02430"/>
<rect x="542.8" y="747.76" width="20.2" height="8.6" rx="1.9" fill="#2a7e78"/>
<rect x="565.8" y="747.76" width="12.2" height="8.6" rx="1.9" fill="#8c8aa6"/>
<rect x="579.0" y="747.76" width="20.2" height="8.6" rx="1.9" fill="#6aa84f"/>
<rect x="599.7" y="747.76" width="9.0" height="8.6" rx="1.9" fill="#e5879e"/>
<rect x="240.7" y="761.00" width="32.8" height="8.6" rx="1.9" fill="#1e6bb5"/>
<rect x="284.6" y="761.00" width="18.0" height="8.6" rx="1.9" fill="#7e8878"/>
<rect x="314.2" y="761.00" width="17.7" height="8.6" rx="1.9" fill="#e06080"/>
<rect x="372.9" y="761.00" width="24.5" height="8.6" rx="1.9" fill="#5e4b88"/>
<rect x="399.0" y="761.00" width="42.4" height="8.6" rx="1.9" fill="#c2553a"/>
<rect x="463.2" y="761.00" width="19.0" height="8.6" rx="1.9" fill="#f5aa85"/>
<rect x="490.6" y="761.00" width="18.0" height="8.6" rx="1.9" fill="#e02430"/>
<rect x="533.6" y="761.00" width="20.2" height="8.6" rx="1.9" fill="#2a7e78"/>
<rect x="556.7" y="761.00" width="12.2" height="8.6" rx="1.9" fill="#8c8aa6"/>
<rect x="569.8" y="761.00" width="20.2" height="8.6" rx="1.9" fill="#6aa84f"/>
<rect x="590.9" y="761.00" width="9.0" height="8.6" rx="1.9" fill="#e5879e"/>
<path d="M215.2 780.7H752.9" stroke="#111" stroke-width="1.7" fill="none"/>
<text transform="translate(215.20,791.2) scale(1,1.1)" font-size="10.3" text-anchor="middle" fill="#000">0</text>
<text transform="translate(304.77,791.2) scale(1,1.1)" font-size="10.3" text-anchor="middle" fill="#000">200</text>
<text transform="translate(394.33,791.2) scale(1,1.1)" font-size="10.3" text-anchor="middle" fill="#000">400</text>
<text transform="translate(483.90,791.2) scale(1,1.1)" font-size="10.3" text-anchor="middle" fill="#000">600</text>
<text transform="translate(573.47,791.2) scale(1,1.1)" font-size="10.3" text-anchor="middle" fill="#000">800</text>
<text transform="translate(663.03,791.2) scale(1,1.1)" font-size="10.3" text-anchor="middle" fill="#000">1000</text>
<text transform="translate(752.60,791.2) scale(1,1.1)" font-size="10.3" text-anchor="middle" fill="#000">1200</text>
<path d="M215.20 780.7V783.5M304.77 780.7V783.5M394.33 780.7V783.5M483.90 780.7V783.5M573.47 780.7V783.5M663.03 780.7V783.5M752.60 780.7V783.5" stroke="#111" stroke-width="1.2" fill="none"/>
<text transform="translate(210.6,780.2) scale(1,1.1)" font-size="10.3" fill="#000">5'</text>
<text transform="translate(752.8,779.8) scale(1,1.1)" font-size="10.3" fill="#000">3'</text>
<rect x="659.8" y="564.30" width="32.6" height="9" rx="1.8" fill="#6aa84f"/>
<text transform="translate(697.2,573.30) scale(1.0,1.1)" font-size="13" fill="#000">Motif 1</text>
<rect x="659.8" y="576.85" width="32.6" height="9" rx="1.8" fill="#f0bf38"/>
<text transform="translate(697.2,585.85) scale(1.0,1.1)" font-size="13" fill="#000">Motif 2</text>
<rect x="659.8" y="589.40" width="32.6" height="9" rx="1.8" fill="#e06080"/>
<text transform="translate(697.2,598.40) scale(1.0,1.1)" font-size="13" fill="#000">Motif 3</text>
<rect x="659.8" y="601.95" width="32.6" height="9" rx="1.8" fill="#2a7e78"/>
<text transform="translate(697.2,610.95) scale(1.0,1.1)" font-size="13" fill="#000">Motif 4</text>
<rect x="659.8" y="614.50" width="32.6" height="9" rx="1.8" fill="#e02430"/>
<text transform="translate(697.2,623.50) scale(1.0,1.1)" font-size="13" fill="#000">Motif 5</text>
<rect x="659.8" y="627.05" width="32.6" height="9" rx="1.8" fill="#8c8aa6"/>
<text transform="translate(697.2,636.05) scale(1.0,1.1)" font-size="13" fill="#000">Motif 6</text>
<rect x="659.8" y="639.60" width="32.6" height="9" rx="1.8" fill="#a0cc88"/>
<text transform="translate(697.2,648.60) scale(1.0,1.1)" font-size="13" fill="#000">Motif 7</text>
<rect x="659.8" y="652.15" width="32.6" height="9" rx="1.8" fill="#f09535"/>
<text transform="translate(697.2,661.15) scale(1.0,1.1)" font-size="13" fill="#000">Motif 8</text>
<rect x="659.8" y="664.70" width="32.6" height="9" rx="1.8" fill="#5e4b88"/>
<text transform="translate(697.2,673.70) scale(1.0,1.1)" font-size="13" fill="#000">Motif 9</text>
<rect x="659.8" y="677.25" width="32.6" height="9" rx="1.8" fill="#f5aa85"/>
<text transform="translate(697.2,686.25) scale(1.0,1.1)" font-size="13" fill="#000">Motif 10</text>
<rect x="659.8" y="689.80" width="32.6" height="9" rx="1.8" fill="#7e8878"/>
<text transform="translate(697.2,698.80) scale(1.0,1.1)" font-size="13" fill="#000">Motif 11</text>
<rect x="659.8" y="702.35" width="32.6" height="9" rx="1.8" fill="#c2553a"/>
<text transform="translate(697.2,711.35) scale(1.0,1.1)" font-size="13" fill="#000">Motif 12</text>
<rect x="659.8" y="714.90" width="32.6" height="9" rx="1.8" fill="#52b58c"/>
<text transform="translate(697.2,723.90) scale(1.0,1.1)" font-size="13" fill="#000">Motif 13</text>
<rect x="659.8" y="727.45" width="32.6" height="9" rx="1.8" fill="#e5879e"/>
<text transform="translate(697.2,736.45) scale(1.0,1.1)" font-size="13" fill="#000">Motif 14</text>
<rect x="659.8" y="740.00" width="32.6" height="9" rx="1.8" fill="#1e6bb5"/>
<text transform="translate(697.2,749.00) scale(1.0,1.1)" font-size="13" fill="#000">Motif 15</text>
</svg></body></html>
